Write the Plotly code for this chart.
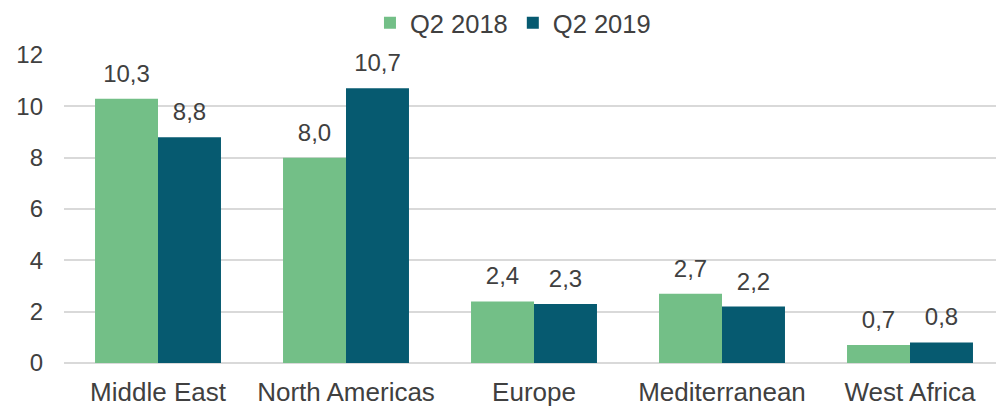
import plotly.graph_objects as go

categories = ["Middle East", "North Americas", "Europe", "Mediterranean", "West Africa"]
q2_2018 = [10.3, 8.0, 2.4, 2.7, 0.7]
q2_2019 = [8.8, 10.7, 2.3, 2.2, 0.8]
series_names = ["Q2 2018", "Q2 2019"]
tick_vals = [0, 2, 4, 6, 8, 10, 12]

colors = ["#73BF87", "#065A70"]
text_color = "#404040"
font_family = "Liberation Sans, Arial, sans-serif"

def fmt(v):
    return f"{v:.1f}".replace(".", ",")

fig = go.Figure()
for name, vals, col in zip(series_names, [q2_2018, q2_2019], colors):
    fig.add_trace(go.Bar(
        x=categories, y=vals, name=name, offsetgroup=name,
        marker=dict(color=col, line=dict(width=0)),
    ))
for name, vals in zip(series_names, [q2_2018, q2_2019]):
    fig.add_trace(go.Scatter(
        x=categories, y=vals, name=name + " labels", offsetgroup=name,
        mode="markers+text", showlegend=False, hoverinfo="skip",
        marker=dict(size=16, opacity=0),
        text=[fmt(v) for v in vals], textposition="top center",
        textfont=dict(size=24, color=text_color, family=font_family),
        cliponaxis=False,
    ))

fig.update_layout(
    width=996, height=400,
    margin=dict(l=56, r=0, t=47, b=45, autoexpand=False),
    paper_bgcolor="white", plot_bgcolor="white",
    barmode="group", bargap=0.33, bargroupgap=0,
    scattermode="group", scattergap=0.33,
    font=dict(family=font_family, size=26, color=text_color),
    showlegend=True,
    legend=dict(orientation="h", x=0.507, xanchor="center", xref="container",
                y=0.962, yanchor="middle", yref="container",
                font=dict(size=25.5, color=text_color), itemsizing="constant",
                bgcolor="rgba(0,0,0,0)"),
)
fig.update_xaxes(showline=False, ticks="", automargin=False, ticklabelstandoff=11,
                 tickfont=dict(size=26, color=text_color))
fig.update_yaxes(range=[0, 12], tickvals=tick_vals, showgrid=True, gridcolor="#D9D9D9",
                 gridwidth=1.5, zeroline=True, zerolinecolor="#D9D9D9", zerolinewidth=1.5,
                 automargin=False, tickfont=dict(size=24, color=text_color), ticks="",
                 ticklabelstandoff=20)

fig.write_html("out.html")
